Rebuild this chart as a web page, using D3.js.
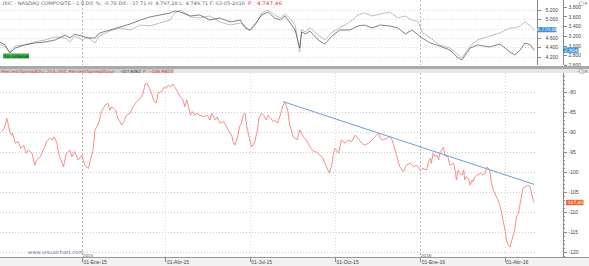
<!DOCTYPE html>
<html lang="es">

<head>
    <meta charset="utf-8">
    <title>.IXIC PercentSpreadOsc</title>
    <script type="text/javascript" src="https://cdn.jsdelivr.net/npm/d3@7"></script>
    <style type="text/css">
    body {
        margin: 0;
        background: #fff;
    }
    svg {
        display: block;
        font-family: "DejaVu Sans", sans-serif;
    }
    .axis text {
        font-size: 5px;
        fill: #444;
    }
    .axis path, .axis line {
        stroke: #888;
        shape-rendering: crispEdges;
    }
    </style>
</head>

<body>
    <script type="text/javascript">
    //svg size
    var w = 589;
    var h = 266;

    //oscillator (lower panel)
    var oscDates = ["2014-10-06","2014-10-09","2014-10-11","2014-10-12","2014-10-15","2014-10-17","2014-10-18","2014-10-21","2014-10-24","2014-10-27",
        "2014-10-30","2014-11-02","2014-11-04","2014-11-08","2014-11-09","2014-11-11","2014-11-13","2014-11-17","2014-11-20","2014-11-22",
        "2014-11-24","2014-11-27","2014-11-30","2014-12-02","2014-12-05","2014-12-06","2014-12-08","2014-12-12","2014-12-15","2014-12-19",
        "2014-12-21","2014-12-24","2014-12-28","2015-01-01","2015-01-04","2015-01-08","2015-01-10","2015-01-13","2015-01-15","2015-01-19",
        "2015-01-22","2015-01-26","2015-01-29","2015-01-31","2015-02-02","2015-02-06","2015-02-09","2015-02-13","2015-02-15","2015-02-18",
        "2015-02-22","2015-02-25","2015-03-01","2015-03-05","2015-03-08","2015-03-10","2015-03-12","2015-03-15","2015-03-17","2015-03-20",
        "2015-03-22","2015-03-24","2015-03-28","2015-03-31","2015-04-02","2015-04-04","2015-04-07","2015-04-09","2015-04-11","2015-04-14",
        "2015-04-17","2015-04-20","2015-04-22","2015-04-24","2015-04-26","2015-04-28","2015-04-30","2015-05-03","2015-05-05","2015-05-08",
        "2015-05-12","2015-05-16","2015-05-19","2015-05-21","2015-05-25","2015-05-27","2015-05-30","2015-06-03","2015-06-06","2015-06-09",
        "2015-06-12","2015-06-13","2015-06-15","2015-06-18","2015-06-20","2015-06-22","2015-06-24","2015-06-26","2015-06-28","2015-07-01",
        "2015-07-03","2015-07-06","2015-07-09","2015-07-11","2015-07-14","2015-07-16","2015-07-19","2015-07-21","2015-07-24","2015-07-26",
        "2015-07-28","2015-07-31","2015-08-03","2015-08-06","2015-08-08","2015-08-11","2015-08-13","2015-08-17","2015-08-21","2015-08-24",
        "2015-08-28","2015-08-31","2015-09-04","2015-09-08","2015-09-11","2015-09-15","2015-09-18","2015-09-22","2015-09-25","2015-09-28",
        "2015-09-29","2015-10-01","2015-10-05","2015-10-08","2015-10-12","2015-10-15","2015-10-19","2015-10-23","2015-10-26","2015-10-30",
        "2015-11-02","2015-11-06","2015-11-10","2015-11-13","2015-11-17","2015-11-19","2015-11-22","2015-11-26","2015-11-29","2015-12-01",
        "2015-12-04","2015-12-07","2015-12-10","2015-12-14","2015-12-17","2015-12-21","2015-12-25","2015-12-28","2016-01-01","2016-01-04",
        "2016-01-08","2016-01-10","2016-01-12","2016-01-13","2016-01-15","2016-01-17","2016-01-19","2016-01-21","2016-01-22","2016-01-26",
        "2016-01-28","2016-01-31","2016-02-02","2016-02-06","2016-02-08","2016-02-09","2016-02-11","2016-02-13","2016-02-15","2016-02-17",
        "2016-02-18","2016-02-20","2016-02-22","2016-02-24","2016-02-26","2016-02-27","2016-02-29","2016-03-02","2016-03-06","2016-03-09",
        "2016-03-11","2016-03-13","2016-03-16","2016-03-18","2016-03-20","2016-03-24","2016-03-25","2016-03-27","2016-03-29","2016-03-31",
        "2016-04-02","2016-04-03","2016-04-05","2016-04-07","2016-04-09","2016-04-11","2016-04-12","2016-04-14","2016-04-16","2016-04-18",
        "2016-04-20","2016-04-21","2016-04-26","2016-04-28","2016-04-29","2016-05-01","2016-05-03"];
    var oscValues = [-89.9,-89.1,-87.4,-86.6,-89.9,-90.8,-90.3,-92.8,-92.4,-94.1,
        -93.3,-95.3,-94.5,-95.3,-96.2,-98.3,-97,-96.2,-94.5,-93.7,
        -92.4,-91.6,-92,-91.2,-92.8,-94.5,-96.2,-98.7,-95.3,-94.5,
        -96.2,-94.9,-97,-95.8,-98.3,-99.1,-97,-94.5,-89.5,-87.8,
        -84.9,-83.3,-82.8,-84.5,-83.7,-84.5,-86.6,-88.3,-87.4,-85.8,
        -85.3,-83.7,-82.4,-81.6,-80.3,-78,-77.8,-79.1,-80.3,-82.4,
        -82.8,-80.3,-79.9,-78.7,-79.1,-78.3,-78.7,-78,-78.7,-79.9,
        -81.2,-82,-83.7,-82,-83.7,-85.8,-84.9,-85.8,-85.3,-85.8,
        -86.2,-85.8,-87,-85.3,-87,-86.2,-87.8,-87.4,-88.7,-89.9,
        -91.2,-92.4,-93.3,-91.2,-88.7,-87.8,-85.8,-85.3,-88.7,-92,
        -93.7,-92.8,-89.9,-86.6,-85.3,-85.8,-87,-85.8,-86.6,-87.4,
        -87,-87.8,-85.8,-83.3,-82.6,-84.5,-88,-91.2,-92,-89.5,
        -91.2,-92,-93.7,-94.9,-95,-95.8,-96.6,-98.7,-100.3,-97.8,
        -95.8,-94.1,-95.3,-92,-92.8,-92,-92.4,-90.8,-91.6,-92.8,
        -93.3,-92.8,-92,-91.2,-90.3,-91.6,-92,-91.6,-91,-91.6,
        -93.7,-96.3,-98.7,-99.9,-98.3,-97.8,-98.7,-98.3,-99.5,-99.1,
        -99.5,-97.4,-96.6,-97.8,-95.3,-96.2,-95.8,-97,-95.3,-93.8,
        -96,-96.2,-98.3,-97.8,-99.9,-102,-99.5,-100.3,-100.8,-99.5,
        -102,-101.2,-101.6,-103.3,-102,-102.4,-101.2,-100.8,-100.3,-100.8,
        -100.3,-98.7,-99.5,-102.8,-104.5,-106.6,-107,-108.3,-110.3,-112.8,
        -114.9,-117,-118.3,-118.8,-117,-115.3,-114.5,-111.2,-110.3,-107.8,
        -105.3,-104.1,-103.3,-103.5,-104.1,-106.2,-107.6];

    //trend line drawn on the oscillator
    var trendDates = ["2015-08-06", "2016-05-03"];
    var trendValues = [-82.4, -103.1];

    //upper panel: .IXIC and the second source
    var topDates = ["2014-10-04","2014-10-10","2014-10-15","2014-10-21","2014-10-31","2014-11-11","2014-11-22","2014-12-03","2014-12-14","2014-12-19",
        "2014-12-24","2015-01-01","2015-01-07","2015-01-15","2015-01-20","2015-01-31","2015-02-11","2015-02-22","2015-03-05","2015-03-15",
        "2015-03-26","2015-04-06","2015-04-11","2015-04-17","2015-04-28","2015-05-08","2015-05-19","2015-05-30","2015-06-10","2015-06-21",
        "2015-06-26","2015-07-01","2015-07-07","2015-07-14","2015-07-21","2015-07-28","2015-08-03","2015-08-08","2015-08-13","2015-08-19",
        "2015-08-24","2015-08-26","2015-08-30","2015-09-04","2015-09-13","2015-09-20","2015-09-28","2015-10-06","2015-10-17","2015-10-26",
        "2015-11-02","2015-11-10","2015-11-19","2015-11-29","2015-12-08","2015-12-16","2015-12-23","2015-12-30","2016-01-03","2016-01-12",
        "2016-01-22","2016-02-02","2016-02-11","2016-02-15","2016-02-24","2016-03-03","2016-03-16","2016-03-27","2016-04-07","2016-04-12",
        "2016-04-18","2016-04-23","2016-04-29","2016-05-03"];
    var ixicValues = [4472,4408,4301,4430,4451,4515,4558,4622,4601,4515,
        4644,4558,4622,4494,4644,4751,4815,4772,4879,4858,
        4922,4986,5136,5200,5050,5029,5072,4943,4879,4922,
        4858,4751,4879,5136,5200,5093,5029,5114,5029,4879,
        4301,4772,4729,4815,4665,4558,4729,4815,4943,5093,
        5136,5072,5114,5157,5029,5072,4986,4943,4729,4601,
        4451,4387,4237,4173,4430,4558,4644,4708,4815,4815,
        4858,4943,4858,4779];
    var srcValues = [3074,3012,2847,2950,3012,3053,3074,3115,3218,3156,
        3232,3197,3156,3156,3259,3320,3382,3444,3526,3588,
        3629,3670,3712,3691,3609,3629,3526,3567,3485,3526,
        3362,3320,3444,3629,3691,3567,3526,3609,3485,3320,
        2950,3279,3238,3300,3115,3032,3197,3320,3320,3403,
        3423,3362,3423,3403,3362,3238,3320,3218,3156,3053,
        2991,2909,2744,2703,2950,3012,2971,3032,2868,2806,
        2909,3053,3012,2904];

    //ticks
    var oscTicks = [-80, -85, -90, -95, -100, -105, -110, -115, -120];
    var ixicTicks = [4200, 4400, 4600, 4800, 5000, 5200];
    var srcTicks = [2600, 2800, 3000, 3200, 3400, 3600, 3800];
    var dateTicks = ["2015-01-01", "2015-04-01", "2015-07-01", "2015-10-01", "2016-01-01", "2016-04-01"];
    var dateTickLabels = ["01-Ene-15", "01-Abr-15", "01-Jul-15", "01-Oct-15", "01-Ene-16", "01-Abr-16"];
    var yearTicks = ["2015-01-01", "2016-01-01"];
    var yearLabels = ["2015", "2016"];

    var parse = d3.timeParse("%Y-%m-%d");
    var es = d3.formatLocale({decimal: ",", thousands: ".", grouping: [3], currency: ["", " €"]});
    var fmtThousands = es.format(",.0f");

    var osc = oscDates.map(function(d, i) { return {date: parse(d), value: oscValues[i]}; });
    var trend = trendDates.map(function(d, i) { return {date: parse(d), value: trendValues[i]}; });
    var topData = topDates.map(function(d, i) {
        return {date: parse(d), ixic: ixicValues[i], src: srcValues[i]};
    });
    var lastTop = topData[topData.length - 1];

    //scales
    var x = d3.scaleTime()
        .domain([parse("2015-01-01"), parse("2016-04-01")])
        .range([82, 504.5]);
    var yOsc = d3.scaleLinear().domain([-80, -120]).range([92, 252]);
    var yIxic = d3.scaleLinear().domain([5200, 4200]).range([10, 56.7]);
    var ySrc = d3.scaleLinear().domain([3800, 2600]).range([6.7, 65]);

    var plotRight = 536;

    //create svg
    var svg = d3.select('body')
        .append('svg')
        .attr('width', w)
        .attr('height', h);

    svg.append('rect').attr('width', w).attr('height', h).attr('fill', '#fff');

    //small helper for fixed-width header texts
    function label(g, x0, y0, size, color, width, txt) {
        return g.append('text')
            .attr('x', x0).attr('y', y0)
            .attr('font-size', size)
            .attr('fill', color)
            .attr('textLength', width)
            .attr('lengthAdjust', 'spacingAndGlyphs')
            .text(txt);
    }

    // ---------- upper panel ----------
    var upper = svg.append('g');

    upper.selectAll('line.hgrid')
        .data(ixicTicks)
        .enter()
        .append('line')
        .attr('x1', 0).attr('x2', 537)
        .attr('y1', function(d) { return Math.round(yIxic(d)) + 0.5; })
        .attr('y2', function(d) { return Math.round(yIxic(d)) + 0.5; })
        .attr('stroke', '#dcdcdc')
        .attr('stroke-dasharray', '1,2');

    upper.selectAll('line.year')
        .data(yearTicks)
        .enter()
        .append('line')
        .attr('x1', function(d) { return Math.round(x(parse(d))) + 0.5; })
        .attr('x2', function(d) { return Math.round(x(parse(d))) + 0.5; })
        .attr('y1', 0).attr('y2', 65)
        .attr('stroke', '#bbb')
        .attr('stroke-dasharray', '2,2');

    upper.append('path')
        .datum(topData)
        .attr('fill', 'none')
        .attr('stroke', '#a4a4a4')
        .attr('stroke-width', 0.7)
        .attr('d', d3.line()
            .x(function(d) { return x(d.date); })
            .y(function(d) { return yIxic(d.ixic); }));

    upper.append('path')
        .datum(topData)
        .attr('fill', 'none')
        .attr('stroke', '#4a4a4a')
        .attr('stroke-width', 0.7)
        .attr('d', d3.line()
            .x(function(d) { return x(d.date); })
            .y(function(d) { return ySrc(d.src); }));

    //price axes on the right of the upper panel (the last-price box hides 4.800)
    upper.append('g')
        .attr('class', 'axis')
        .attr('transform', 'translate(537.5,0)')
        .call(d3.axisRight(yIxic).tickValues(ixicTicks).tickSize(3).tickPadding(5)
            .tickFormat(function(d) {
                return Math.abs(yIxic(d) - yIxic(lastTop.ixic)) < 4 ? '' : fmtThousands(d);
            }));

    upper.append('g')
        .attr('class', 'axis')
        .attr('transform', 'translate(563.5,0)')
        .call(d3.axisRight(ySrc).tickValues(srcTicks).tickSize(3).tickPadding(2).tickFormat(fmtThousands));

    upper.selectAll('.axis .domain').attr('d', 'M0,0V65');

    //last price boxes
    upper.append('rect')
        .attr('x', 537.5).attr('y', yIxic(lastTop.ixic) - 2.6)
        .attr('width', 19).attr('height', 5.2)
        .attr('fill', '#3d8fdc');
    upper.append('text')
        .attr('x', 547).attr('y', yIxic(lastTop.ixic) + 1.7)
        .attr('text-anchor', 'middle')
        .attr('font-size', 4.6).attr('fill', '#fff')
        .text(es.format(",.2f")(4779.08));

    upper.append('rect')
        .attr('x', 563.5).attr('y', ySrc(lastTop.src) - 2.8)
        .attr('width', 15).attr('height', 5.4)
        .attr('fill', '#3d8fdc');
    upper.append('text')
        .attr('x', 571).attr('y', ySrc(lastTop.src) + 1.6)
        .attr('text-anchor', 'middle')
        .attr('font-size', 4.6).attr('fill', '#fff')
        .text(fmtThousands(lastTop.src));

    //header of upper panel
    label(upper, 1, 5, 4.8, '#666', 244,
        '.IXIC - NASDAQ COMPOSITE - 1 d Dif. %: -0,78 Dif.: -37,71 H: 4.797,28 L: 4.749,71 F: 03-05-2016');
    label(upper, 248, 5, 4.8, '#e03030', 34, 'P : 4.747,46');

    upper.append('rect')
        .attr('x', 3).attr('y', 53.5).attr('width', 26).attr('height', 5)
        .attr('fill', '#3db34a');
    upper.append('text')
        .attr('x', 4).attr('y', 57.5)
        .attr('font-size', 4.3).attr('fill', '#0d2a10')
        .text('Sin órdenes');

    upper.append('text')
        .attr('x', 588).attr('y', 4.5)
        .attr('text-anchor', 'end')
        .attr('font-size', 5).attr('fill', '#444')
        .text('-□×');

    // ---------- separator ----------
    svg.append('rect').attr('x', 0).attr('y', 66).attr('width', w).attr('height', 3).attr('fill', '#a9a9a9');
    svg.append('rect').attr('x', 0).attr('y', 69).attr('width', w).attr('height', 4).attr('fill', '#e6e6e6');
    svg.append('rect').attr('x', 0).attr('y', 69).attr('width', 174).attr('height', 4).attr('fill', '#cfcfcf');

    label(svg, 1, 72.6, 4.3, '#d03a3a', 117, 'PercentSpreadOsc.25$.IXIC PercentSpreadSour :');
    label(svg, 120, 72.6, 4.3, '#333', 21, '-107,6062');
    label(svg, 143, 72.6, 4.3, '#d03a3a', 30, 'P : -106,9823');

    svg.append('text')
        .attr('x', 588).attr('y', 72.6)
        .attr('text-anchor', 'end')
        .attr('font-size', 5).attr('fill', '#444')
        .text('-□×');

    // ---------- lower panel ----------
    var lower = svg.append('g');

    lower.selectAll('line.hgrid')
        .data(oscTicks)
        .enter()
        .append('line')
        .attr('x1', 0).attr('x2', plotRight)
        .attr('y1', function(d) { return Math.round(yOsc(d)) + 0.5; })
        .attr('y2', function(d) { return Math.round(yOsc(d)) + 0.5; })
        .attr('stroke', '#cfcfcf')
        .attr('stroke-dasharray', '1,2');

    lower.selectAll('line.vgrid')
        .data(dateTicks)
        .enter()
        .append('line')
        .attr('x1', function(d) { return Math.round(x(parse(d))) + 0.5; })
        .attr('x2', function(d) { return Math.round(x(parse(d))) + 0.5; })
        .attr('y1', 73).attr('y2', 257)
        .attr('stroke', function(d) { return yearTicks.indexOf(d) >= 0 ? '#bbb' : '#dadada'; })
        .attr('stroke-dasharray', function(d) { return yearTicks.indexOf(d) >= 0 ? '2,2' : '1,2'; });

    lower.append('path')
        .datum(osc)
        .attr('fill', 'none')
        .attr('stroke', '#f2837b')
        .attr('stroke-width', 0.9)
        .attr('d', d3.line()
            .x(function(d) { return x(d.date); })
            .y(function(d) { return yOsc(d.value); }));

    lower.append('path')
        .datum(trend)
        .attr('fill', 'none')
        .attr('stroke', '#6b9fd6')
        .attr('stroke-width', 1)
        .attr('d', d3.line()
            .x(function(d) { return x(d.date); })
            .y(function(d) { return yOsc(d.value); }));

    //right value axis with minor ticks
    lower.append('g')
        .attr('class', 'axis')
        .attr('transform', 'translate(563.5,0)')
        .call(d3.axisRight(yOsc).tickValues(d3.range(-121, -75)).tickSize(1.5).tickFormat(''));
    lower.append('g')
        .attr('class', 'axis')
        .attr('transform', 'translate(563.5,0)')
        .call(d3.axisRight(yOsc).tickValues(oscTicks).tickSize(3).tickPadding(2)
            .tickFormat(function(d) { return String(d); }));
    lower.selectAll('.axis .domain').attr('d', 'M0,73V257');

    var lastOsc = osc[osc.length - 1];
    lower.append('rect')
        .attr('x', 566).attr('y', yOsc(lastOsc.value) - 2.6)
        .attr('width', 17.5).attr('height', 5.4)
        .attr('fill', '#f0622a');
    lower.append('text')
        .attr('x', 574.7).attr('y', yOsc(lastOsc.value) + 1.7)
        .attr('text-anchor', 'middle')
        .attr('font-size', 4.4).attr('fill', '#fff')
        .text('-107,60');

    //year labels and watermark
    lower.selectAll('text.year')
        .data(yearTicks)
        .enter()
        .append('text')
        .attr('x', function(d) { return x(parse(d)) + 0.5; })
        .attr('y', 256.6)
        .attr('font-size', 4.2)
        .attr('fill', '#555')
        .text(function(d, i) { return yearLabels[i]; });

    lower.append('text')
        .attr('x', 28).attr('y', 253.5)
        .attr('font-size', 5.2)
        .attr('fill', '#7272b8')
        .text('www.visualchart.com');

    // ---------- date axis ----------
    svg.append('rect').attr('x', 0).attr('y', 258).attr('width', w).attr('height', 8).attr('fill', '#f2f2f2');
    svg.append('line')
        .attr('x1', 0).attr('x2', w)
        .attr('y1', 257.5).attr('y2', 257.5)
        .attr('stroke', '#999');

    var dateAxis = svg.append('g')
        .attr('class', 'axis')
        .attr('transform', 'translate(0,258)')
        .call(d3.axisBottom(x)
            .tickValues(dateTicks.map(parse))
            .tickSize(4)
            .tickFormat(function(d, i) { return dateTickLabels[i]; }));
    dateAxis.select('.domain').remove();
    dateAxis.selectAll('.tick text')
        .attr('text-anchor', 'start')
        .attr('x', 1)
        .attr('y', 2.5)
        .attr('dy', '0.71em');
    </script>
</body>
</html>
